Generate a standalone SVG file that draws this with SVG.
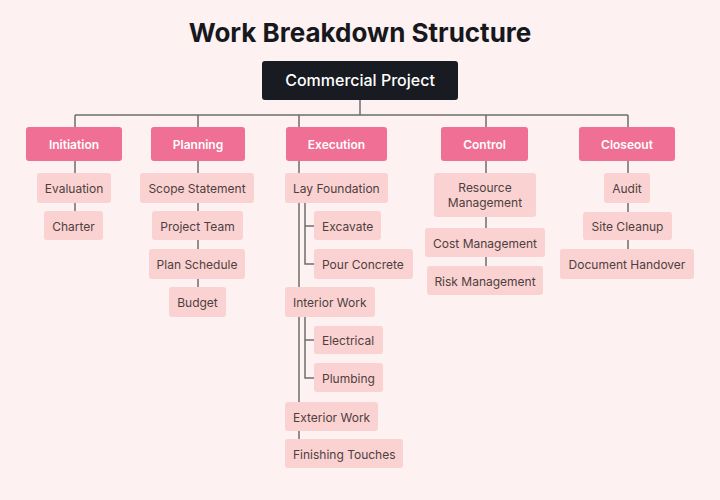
<svg xmlns="http://www.w3.org/2000/svg" width="720" height="500" viewBox="0 0 720 500">
<style>
.bg{fill:#fdf1f1}
.title{font-family:Inter,"Liberation Sans",sans-serif;font-size:26px;font-weight:700;fill:#16181d}
.root{fill:#181b22}
.roott{font-family:Inter,"Liberation Sans",sans-serif;font-size:16px;font-weight:500;fill:#ffffff}
.cat{fill:#ef6f95}
.catt{font-family:Inter,"Liberation Sans",sans-serif;font-size:12px;font-weight:600;fill:#ffffff}
.kid{fill:#fbd2d2}
.kidt{font-family:Inter,"Liberation Sans",sans-serif;font-size:12px;font-weight:400;fill:#4d3f40}
.ln{stroke:#6e6e6e;stroke-width:1.5;fill:none}
</style>
<rect class="bg" x="0" y="0" width="720" height="500"/>
<text class="title" x="360" y="42" text-anchor="middle">Work Breakdown Structure</text>
<g id="connectors">
<path class="ln" d="M360 100V115M75 115H628M75 115V211M198 115V287M299 115V439M486 115V266M628 115V249"/>
<path class="ln" d="M305 203V264H314M305 226H314M305 317V378H314M305 340H314"/>
</g>
<g id="root"><rect class="root" x="262" y="61" width="196" height="39" rx="3"/><text class="roott" x="360" y="86" text-anchor="middle">Commercial Project</text></g>
<g id="initiation"><rect class="cat" x="26" y="127" width="96" height="34" rx="3"/><text class="catt" x="74" y="148.5" text-anchor="middle">Initiation</text></g>
<g id="planning"><rect class="cat" x="151" y="127" width="94" height="34" rx="3"/><text class="catt" x="198" y="148.5" text-anchor="middle">Planning</text></g>
<g id="execution"><rect class="cat" x="286" y="127" width="101" height="34" rx="3"/><text class="catt" x="336.5" y="148.5" text-anchor="middle">Execution</text></g>
<g id="control"><rect class="cat" x="441" y="127" width="87" height="34" rx="3"/><text class="catt" x="484.5" y="148.5" text-anchor="middle">Control</text></g>
<g id="closeout"><rect class="cat" x="579" y="127" width="96" height="34" rx="3"/><text class="catt" x="627" y="148.5" text-anchor="middle">Closeout</text></g>
<g id="evaluation"><rect class="kid" x="37" y="173" width="74" height="30" rx="3"/><text class="kidt" x="74" y="192.5" text-anchor="middle">Evaluation</text></g>
<g id="charter"><rect class="kid" x="44" y="211" width="59" height="29" rx="3"/><text class="kidt" x="73.5" y="230.5" text-anchor="middle">Charter</text></g>
<g id="scope"><rect class="kid" x="140" y="173" width="114" height="30" rx="3"/><text class="kidt" x="197" y="192.5" text-anchor="middle">Scope Statement</text></g>
<g id="team"><rect class="kid" x="152" y="211" width="91" height="29" rx="3"/><text class="kidt" x="197.5" y="230.5" text-anchor="middle">Project Team</text></g>
<g id="schedule"><rect class="kid" x="149" y="249" width="96" height="30" rx="3"/><text class="kidt" x="197" y="268.5" text-anchor="middle">Plan Schedule</text></g>
<g id="budget"><rect class="kid" x="169" y="287" width="57" height="30" rx="3"/><text class="kidt" x="197.5" y="306.5" text-anchor="middle">Budget</text></g>
<g id="foundation"><rect class="kid" x="285" y="173" width="103" height="30" rx="3"/><text class="kidt" x="293" y="192.5">Lay Foundation</text></g>
<g id="excavate"><rect class="kid" x="314" y="211" width="67" height="29" rx="3"/><text class="kidt" x="322" y="230.5">Excavate</text></g>
<g id="pour"><rect class="kid" x="314" y="249" width="99" height="30" rx="3"/><text class="kidt" x="322" y="268.5">Pour Concrete</text></g>
<g id="interior"><rect class="kid" x="285" y="287" width="90" height="30" rx="3"/><text class="kidt" x="293" y="306.5">Interior Work</text></g>
<g id="electrical"><rect class="kid" x="314" y="326" width="69" height="28" rx="3"/><text class="kidt" x="322" y="344.5">Electrical</text></g>
<g id="plumbing"><rect class="kid" x="314" y="363" width="69" height="29" rx="3"/><text class="kidt" x="322" y="382.5">Plumbing</text></g>
<g id="exterior"><rect class="kid" x="285" y="402" width="93" height="29" rx="3"/><text class="kidt" x="293" y="421.5">Exterior Work</text></g>
<g id="finishing"><rect class="kid" x="285" y="439" width="118" height="29" rx="3"/><text class="kidt" x="293" y="458.5">Finishing Touches</text></g>
<g id="resource"><rect class="kid" x="434" y="173" width="102" height="44" rx="3"/><text class="kidt" x="485" y="192" text-anchor="middle">Resource</text><text class="kidt" x="485" y="207" text-anchor="middle">Management</text></g>
<g id="cost"><rect class="kid" x="425" y="228" width="120" height="29" rx="3"/><text class="kidt" x="485" y="247.5" text-anchor="middle">Cost Management</text></g>
<g id="risk"><rect class="kid" x="427" y="266" width="116" height="29" rx="3"/><text class="kidt" x="485" y="285.5" text-anchor="middle">Risk Management</text></g>
<g id="audit"><rect class="kid" x="604" y="173" width="46" height="30" rx="3"/><text class="kidt" x="627" y="192.5" text-anchor="middle">Audit</text></g>
<g id="cleanup"><rect class="kid" x="583" y="212" width="89" height="28" rx="3"/><text class="kidt" x="627.5" y="230.5" text-anchor="middle">Site Cleanup</text></g>
<g id="handover"><rect class="kid" x="560" y="249" width="134" height="30" rx="3"/><text class="kidt" x="627" y="268.5" text-anchor="middle">Document Handover</text></g>
</svg>
